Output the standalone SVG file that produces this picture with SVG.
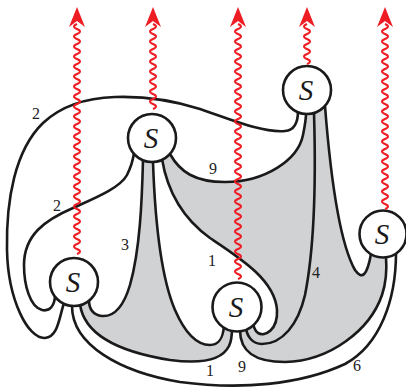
<svg xmlns="http://www.w3.org/2000/svg" width="406" height="389" viewBox="0 0 406 389">
<style>
.g{fill:#d1d2d4;stroke:none}
.s{fill:none;stroke:#1a1a1a;stroke-width:2.6;stroke-linecap:round}
.n circle{fill:#fff;stroke:#1a1a1a;stroke-width:2.6}
.n text{font-family:"Liberation Serif",serif;font-style:italic;font-size:29px;text-anchor:middle;fill:#1a1a1a}
.lb{font-family:"Liberation Serif",serif;font-size:16px;text-anchor:middle;fill:#222}
.w{fill:none;stroke:#ee1d24;stroke-width:2}
.h{fill:#ee1d24}
</style>
<g id="faces">
<path class="g" d="M143,160 C142,200 140,250 130,285 C124,305 115,317 102,316 C94,315 89,310 89,300 L80,304 C84,335 120,352 170,360 C200,364 222,360 229,346 C232,340 232,335 232,328 L224,326 C223,337 220,345 210,345 C197,345 185,333 175,310 C160,275 155,220 153,162 Z"/>
<path class="g" d="M162,159 C168,195 185,220 210,238 C240,258 275,280 277,310 C278,330 265,337 258,333 C254,330 253,325 253,320 L246,328 C247,336 252,344 262,344 C282,344 298,325 305,295 C314,250 316,180 314,113 L306,114 C306,118 305,125 303,135 C298,160 265,182 225,182 C195,182 180,172 170,154 Z"/>
<path class="g" d="M314,113 C316,180 314,250 305,295 C298,325 282,344 262,344 C252,344 247,336 246,328 L240,330 C240,352 255,362 285,362 C330,361 370,330 382,295 C386,283 387,270 386,257 L371,254 C367,276 362,280 355,270 C338,240 330,170 325,106 Z"/>
</g>
<g id="connectors">
<path class="s" d="M64,303 C59,318 58,337 45,338 C28,339 8,300 7,250 C6,200 15,150 43,123 C60,107 85,98 115,97 C145,96 175,101 200,109 C230,119 262,133 285,131 C297,130 298,118 298,111"/>
<path class="s" d="M55,295 C55,305 50,312 42,310 C30,307 24,285 24,265 C24,235 45,220 73,208 C95,198 120,188 127,175 C131,167 133,160 134,153"/>
<path class="s" d="M143,160 C142,200 140,250 130,285 C124,305 115,317 102,316 C94,315 89,310 89,300"/>
<path class="s" d="M153,162 C155,220 160,275 175,310 C185,333 197,345 210,345 C220,345 223,337 224,326"/>
<path class="s" d="M162,159 C168,195 185,220 210,238 C240,258 275,280 277,310 C278,330 265,337 258,333 C254,330 253,325 253,320"/>
<path class="s" d="M170,154 C180,172 195,182 225,182 C265,182 298,160 303,135 C305,125 306,118 306,114"/>
<path class="s" d="M314,113 C316,180 314,250 305,295 C298,325 282,344 262,344 C252,344 247,336 246,328"/>
<path class="s" d="M325,106 C330,170 338,240 355,270 C362,280 367,276 371,254"/>
<path class="s" d="M240,330 C240,352 255,362 285,362 C330,361 370,330 382,295 C386,283 387,270 386,257"/>
<path class="s" d="M80,304 C84,335 120,352 170,360 C200,364 222,360 229,346 C232,340 232,335 232,328"/>
<path class="s" d="M72,306 C72,345 120,372 180,382 C240,390 300,385 345,364 C380,345 396,300 396,253"/>
</g>
<g id="S1" class="n"><circle cx="152" cy="138" r="24"/><text x="151" y="148">S</text></g>
<g id="S2" class="n"><circle cx="307" cy="90" r="24"/><text x="306" y="100">S</text></g>
<g id="S3" class="n"><circle cx="74" cy="282" r="24"/><text x="73" y="292">S</text></g>
<g id="S4" class="n"><circle cx="237" cy="307" r="24.5"/><text x="236" y="317">S</text></g>
<g id="S5" class="n"><circle cx="383" cy="234" r="23.5"/><text x="382" y="244">S</text></g>
<g id="labels">
<text class="lb" x="36" y="118.5">2</text>
<text class="lb" x="57" y="210.5">2</text>
<text class="lb" x="125" y="249.5">3</text>
<text class="lb" x="213" y="173.5">9</text>
<text class="lb" x="212" y="265.5">1</text>
<text class="lb" x="316" y="277.5">4</text>
<text class="lb" x="210" y="375.5">1</text>
<text class="lb" x="242" y="371.5">9</text>
<text class="lb" x="357" y="370.5">6</text>
</g>
<g id="arrows">
<path class="w" d="M77,254 q6,-2.5 0,-5 t0,-5t0,-5t0,-5t0,-5t0,-5t0,-5t0,-5t0,-5t0,-5t0,-5 t0,-5t0,-5t0,-5t0,-5t0,-5t0,-5t0,-5t0,-5t0,-5t0,-5 t0,-5t0,-5t0,-5t0,-5t0,-5t0,-5t0,-5t0,-5t0,-5t0,-5 t0,-5t0,-5t0,-5t0,-5t0,-5t0,-5t0,-5t0,-5t0,-5t0,-5 t0,-5t0,-5t0,-5t0,-5t0,-5"/>
<path class="h" d="M77,7 L85,27 L77,21 L69,27 Z"/>
<path class="w" d="M153,109 q6,-2.5 0,-5 t0,-5t0,-5t0,-5t0,-5t0,-5t0,-5t0,-5t0,-5t0,-5t0,-5 t0,-5t0,-5t0,-5t0,-5t0,-5t0,-5"/>
<path class="h" d="M153,7 L161,27 L153,21 L145,27 Z"/>
<path class="w" d="M238,279 q6,-2.5 0,-5 t0,-5t0,-5t0,-5t0,-5t0,-5t0,-5t0,-5t0,-5t0,-5t0,-5 t0,-5t0,-5t0,-5t0,-5t0,-5t0,-5t0,-5t0,-5t0,-5t0,-5 t0,-5t0,-5t0,-5t0,-5t0,-5t0,-5t0,-5t0,-5t0,-5t0,-5 t0,-5t0,-5t0,-5t0,-5t0,-5t0,-5t0,-5t0,-5t0,-5t0,-5 t0,-5t0,-5t0,-5t0,-5t0,-5t0,-5t0,-5t0,-5t0,-5t0,-5"/>
<path class="h" d="M238,7 L246,27 L238,21 L230,27 Z"/>
<path class="w" d="M307,64 q6,-2.5 0,-5 t0,-5t0,-5t0,-5t0,-5t0,-5t0,-5t0,-5"/>
<path class="h" d="M307,7 L315,27 L307,21 L299,27 Z"/>
<path class="w" d="M385,209 q6,-2.5 0,-5 t0,-5t0,-5t0,-5t0,-5t0,-5t0,-5t0,-5t0,-5t0,-5t0,-5 t0,-5t0,-5t0,-5t0,-5t0,-5t0,-5t0,-5t0,-5t0,-5t0,-5 t0,-5t0,-5t0,-5t0,-5t0,-5t0,-5t0,-5t0,-5t0,-5t0,-5 t0,-5t0,-5t0,-5t0,-5t0,-5t0,-5"/>
<path class="h" d="M385,7 L393,27 L385,21 L377,27 Z"/>
</g>
</svg>
